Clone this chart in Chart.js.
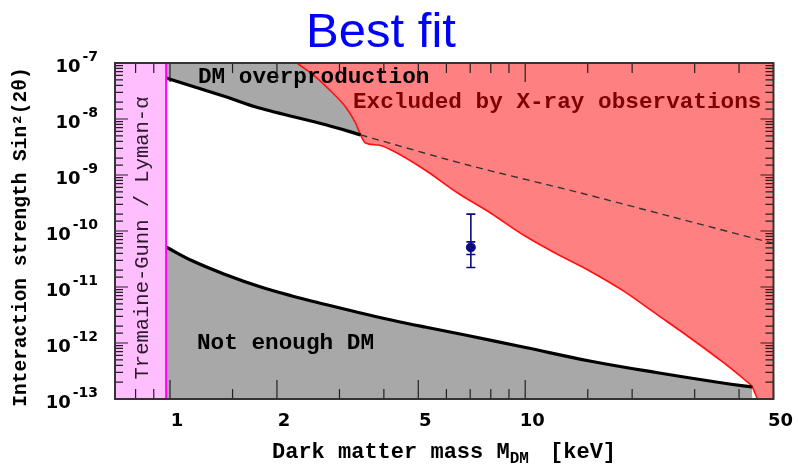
<!DOCTYPE html>
<html>
<head>
<meta charset="utf-8">
<script src="https://cdn.jsdelivr.net/npm/chart.js@4.4.1/dist/chart.umd.min.js"></script>
<style>
html, body { margin: 0; padding: 0; background: #fff; }
</style>
</head>
<body>
<canvas id="grafico" width="798" height="467"></canvas>
<script>
// Ejes
const xMin = 0.7, xMax = 50;
const yMin = 1e-13, yMax = 1e-7;
const xTickLabels = [1, 2, 5, 10, 50];
const yExponents = [-7, -8, -9, -10, -11, -12, -13];

// Límite Tremaine-Gunn / Lyman-alpha (keV)
const tgLimit = 0.975;

// Frontera de sobreproducción (línea sólida y su prolongación a trazos)
const overprodX = [0.975, 1.443, 1.784, 2.745, 3.44];
const overprodY = [5.4e-8, 2.47e-8, 1.57e-8, 7.9e-9, 5.2e-9];
const overprodDashX = [3.44, 6.89, 13.97, 25, 50];
const overprodDashY = [5.2e-9, 1.51e-9, 4.97e-10, 1.9e-10, 6.0e-11];

// Frontera "Not enough DM"
const lowX = [0.975, 1.159, 1.443, 1.784, 2.206, 2.745, 3.394, 4.197, 5.223, 6.887, 9.94, 15.19, 23.37, 35.96, 43.6];
const lowY = [5.18e-11, 2.91e-11, 1.64e-11, 1.02e-11, 6.91e-12, 4.86e-12, 3.51e-12, 2.58e-12, 1.93e-12, 1.36e-12, 8.4e-13, 4.78e-13, 2.97e-13, 1.93e-13, 1.64e-13];

// Límite de rayos X
const xrayX = [2.278, 2.574, 2.853, 3.122, 3.329, 3.44, 3.55, 3.86, 4.197, 5.223, 6.457, 7.985, 9.94, 12.29, 15.19, 18.9, 23.37, 28.9, 35.96, 40.9, 43.6, 45.3, 50];
const xrayY = [1e-7, 5.62e-8, 3.03e-8, 1.64e-8, 8.48e-9, 5.18e-9, 3.73e-9, 3.43e-9, 2.79e-9, 1.23e-9, 4.77e-10, 2.1e-10, 8.3e-11, 3.88e-11, 1.93e-11, 8.5e-12, 3.3e-12, 1.28e-12, 4.58e-13, 2.37e-13, 1.64e-13, 1e-13, 1e-13];

// Mejor ajuste con barras de error
const fitX = [7.03];
const fitY = [5.1e-11];
const fitLow = [2.23e-11];
const fitHigh = [2.0e-10];
const fitInnerLow = [3.8e-11];
const fitInnerHigh = [6.4e-11];

const pts = (xs, ys) => xs.map((x, i) => ({ x: x, y: ys[i] }));
const esDecada = v => Math.abs(Math.log10(v) - Math.round(Math.log10(v))) < 1e-6;
const esEtiqueta = v => xTickLabels.some(t => Math.abs(t - v) < 1e-9);

const sinBorde = 'rgba(0,0,0,0)';

// Marcas de ejes, marco, textos y barras de error
const decoracion = {
    id: 'decoracion',
    afterDatasetsDraw(chart) {
        const ctx = chart.ctx, a = chart.chartArea;
        const xs = chart.scales.x, ys = chart.scales.y;
        ctx.save();

        // barras de error
        ctx.strokeStyle = '#0a0a80';
        ctx.lineWidth = 1.6;
        fitX.forEach((x, i) => {
            const px = xs.getPixelForValue(x);
            const top = ys.getPixelForValue(fitHigh[i]), bot = ys.getPixelForValue(fitLow[i]);
            ctx.beginPath();
            ctx.moveTo(px, top); ctx.lineTo(px, bot);
            [fitHigh[i], fitLow[i], fitInnerHigh[i], fitInnerLow[i]].forEach(v => {
                const py = ys.getPixelForValue(v);
                ctx.moveTo(px - 4.5, py); ctx.lineTo(px + 4.5, py);
            });
            ctx.stroke();
        });

        // textos de regiones
        ctx.textBaseline = 'alphabetic';
        ctx.textAlign = 'left';
        ctx.font = 'bold 22.7px "Liberation Mono"';
        ctx.fillStyle = '#000';
        ctx.fillText('DM overproduction', 198, 83);
        ctx.fillText('Not enough DM', 197, 349);
        ctx.fillStyle = '#800000';
        ctx.fillText('Excluded by X-ray observations', 353, 108);

        ctx.save();
        ctx.translate(143, 238);
        ctx.rotate(-Math.PI / 2);
        ctx.textAlign = 'center';
        ctx.textBaseline = 'middle';
        ctx.font = '20.5px "Liberation Mono"';
        ctx.fillStyle = '#2a1a2a';
        ctx.fillText('Tremaine-Gunn / Lyman-\u03b1', 0, 0);
        ctx.restore();

        // marcas hacia dentro
        ctx.strokeStyle = '#222';
        ctx.lineWidth = 1.2;
        ctx.beginPath();
        xs.ticks.forEach(t => {
            const px = xs.getPixelForValue(t.value);
            const len = esEtiqueta(t.value) ? 19 : 10;
            ctx.moveTo(px, a.bottom); ctx.lineTo(px, a.bottom - len);
            ctx.moveTo(px, a.top); ctx.lineTo(px, a.top + len);
        });
        ys.ticks.forEach(t => {
            const py = ys.getPixelForValue(t.value);
            const len = esDecada(t.value) ? 13 : 8;
            ctx.moveTo(a.left, py); ctx.lineTo(a.left + len, py);
            ctx.moveTo(a.right, py); ctx.lineTo(a.right - len, py);
        });
        ctx.stroke();

        // marco
        ctx.strokeStyle = '#333';
        ctx.lineWidth = 2;
        ctx.strokeRect(a.left, a.top, a.right - a.left, a.bottom - a.top);

        // etiquetas del eje y con exponente
        ctx.fillStyle = '#000';
        ctx.textAlign = 'right';
        yExponents.forEach(e => {
            const py = ys.getPixelForValue(Math.pow(10, e));
            ctx.font = 'bold 14px "DejaVu Sans"';
            const exp = '-' + Math.abs(e);
            const w = ctx.measureText(exp).width;
            ctx.fillText(exp, 98, py - 2);
            ctx.font = 'bold 18px "DejaVu Sans"';
            ctx.fillText('10', 98 - w - 2, py + 9);
        });

        // título eje y
        ctx.save();
        ctx.translate(21, 237);
        ctx.rotate(-Math.PI / 2);
        ctx.textAlign = 'center';
        ctx.textBaseline = 'middle';
        ctx.font = 'bold 19.5px "Liberation Mono"';
        ctx.fillText('Interaction strength Sin\u00b2(2\u03b8)', 0, 0);
        ctx.restore();

        // título eje x con subíndice
        ctx.textAlign = 'left';
        let x0 = 272;
        ctx.font = 'bold 22px "Liberation Mono"';
        ctx.fillText('Dark matter mass M', x0, 458);
        x0 += ctx.measureText('Dark matter mass M').width;
        ctx.font = 'bold 16px "Liberation Mono"';
        ctx.fillText('DM', x0, 463);
        x0 += ctx.measureText('DM').width;
        ctx.font = 'bold 22px "Liberation Mono"';
        ctx.fillText(' [keV]', x0 + 8, 458);

        // título
        ctx.textAlign = 'center';
        ctx.font = '49px "Liberation Sans"';
        ctx.fillStyle = '#0000ff';
        ctx.fillText('Best fit', 381, 47);

        ctx.restore();
    }
};

const ctx = document.getElementById('grafico').getContext('2d');
new Chart(ctx, {
    type: 'line',
    data: {
        datasets: [
            {   // punto de mejor ajuste
                data: pts(fitX, fitY),
                showLine: false,
                pointRadius: 4.5,
                pointBackgroundColor: '#0a0a80',
                pointBorderColor: '#0a0a80',
                order: 0
            },
            {   // línea magenta
                data: [{ x: tgLimit, y: yMin }, { x: tgLimit, y: yMax }],
                borderColor: '#ff00ff',
                borderWidth: 2,
                order: 1
            },
            {   // zona rosa
                data: [{ x: xMin, y: yMax }, { x: tgLimit, y: yMax }],
                borderColor: sinBorde,
                backgroundColor: '#ffbfff',
                fill: 'start',
                order: 2
            },
            {   // línea inferior
                data: pts(lowX, lowY),
                borderColor: '#000',
                borderWidth: 3.2,
                tension: 0.4,
                order: 3
            },
            {   // línea superior sólida
                data: pts(overprodX, overprodY),
                borderColor: '#000',
                borderWidth: 3.2,
                tension: 0.3,
                order: 4
            },
            {   // prolongación a trazos
                data: pts(overprodDashX, overprodDashY),
                borderColor: '#333',
                borderWidth: 1.4,
                borderDash: [7, 5],
                tension: 0.3,
                order: 5
            },
            {   // excluido por rayos X
                data: pts(xrayX, xrayY),
                borderColor: '#ff1010',
                borderWidth: 1.6,
                backgroundColor: '#ff8080',
                fill: 'end',
                cubicInterpolationMode: 'monotone',
                order: 6
            },
            {   // gris inferior
                data: pts(lowX, lowY),
                borderColor: sinBorde,
                backgroundColor: '#a8a8a8',
                fill: 'start',
                tension: 0.4,
                order: 7
            },
            {   // gris superior
                data: pts(overprodX.concat(overprodDashX.slice(1)), overprodY.concat(overprodDashY.slice(1))),
                borderColor: sinBorde,
                backgroundColor: '#a8a8a8',
                fill: 'end',
                tension: 0.3,
                order: 8
            }
        ]
    },
    options: {
        responsive: false,
        animation: false,
        layout: { padding: { top: 63, right: 18, left: 0, bottom: 0 } },
        elements: { point: { radius: 0 }, line: { tension: 0 } },
        plugins: {
            legend: { display: false },
            tooltip: { enabled: false },
            title: { display: false }
        },
        scales: {
            x: {
                type: 'logarithmic',
                min: xMin,
                max: xMax,
                grid: { display: false, drawTicks: false },
                border: { display: false },
                ticks: {
                    autoSkip: false,
                    maxRotation: 0,
                    padding: 12,
                    labelOffset: 7,
                    color: '#000',
                    font: { family: 'DejaVu Sans', weight: 'bold', size: 18 },
                    callback: v => esEtiqueta(v) ? String(xTickLabels.find(t => Math.abs(t - v) < 1e-9)) : ''
                },
                afterFit: s => { s.height = 68; }
            },
            y: {
                type: 'logarithmic',
                min: yMin,
                max: yMax,
                grid: { display: false, drawTicks: false },
                border: { display: false },
                ticks: { display: false },
                afterFit: s => { s.width = 115; }
            }
        }
    },
    plugins: [decoracion]
});
</script>
</body>
</html>
